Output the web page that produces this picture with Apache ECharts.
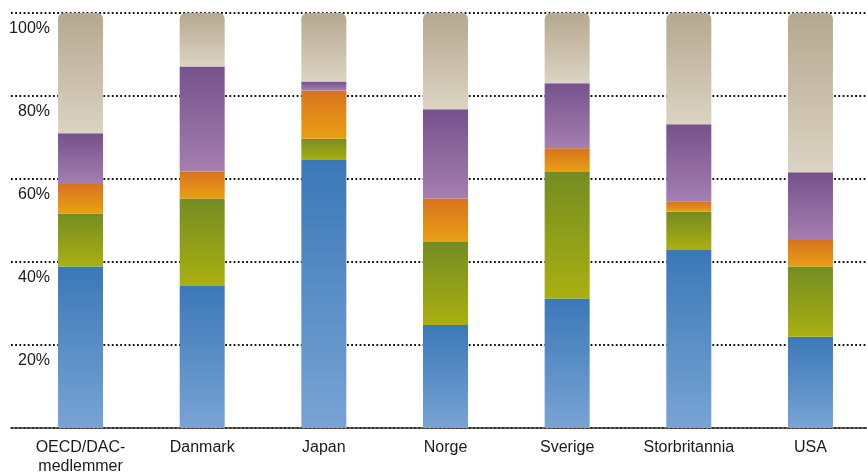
<!DOCTYPE html>
<html>
<head>
<meta charset="utf-8">
<script src="https://cdn.jsdelivr.net/npm/echarts@6/dist/echarts.min.js"></script>
<style>
html,body{margin:0;padding:0;background:#fff;}
#c{width:867px;height:472px;}
</style>
</head>
<body>
<div id="c"></div>
<script>
const categories = ['OECD/DAC-\nmedlemmer', 'Danmark', 'Japan', 'Norge', 'Sverige', 'Storbritannia', 'USA'];
const seriesBlue   = [38.9, 34.2, 64.6, 24.8, 31.2, 42.9, 22.0];
const seriesGreen  = [12.8, 21.1, 5.1, 20.0, 30.5, 9.2, 16.9];
const seriesOrange = [7.1, 6.5, 11.6, 10.5, 5.7, 2.4, 6.4];
const seriesPurple = [12.2, 25.3, 2.2, 21.5, 15.7, 18.7, 16.3];
const seriesBeige  = [29.0, 12.9, 16.5, 23.2, 16.9, 26.8, 38.4];
const yTicks = [20, 40, 60, 80, 100];

const FONT = '"Liberation Sans", Arial, sans-serif';
function grad(top, bottom) {
  return new echarts.graphic.LinearGradient(0, 0, 0, 1, [
    { offset: 0, color: top }, { offset: 1, color: bottom }
  ]);
}
const segs = [
  { name: 'blue',   data: seriesBlue,   c: grad('#3b78b8', '#78a4d4') },
  { name: 'green',  data: seriesGreen,  c: grad('#748c22', '#aab010') },
  { name: 'orange', data: seriesOrange, c: grad('#d8731e', '#eaa014') },
  { name: 'purple', data: seriesPurple, c: grad('#76518c', '#a57fb0') },
  { name: 'beige',  data: seriesBeige,  c: grad('#b5a890', '#dcd3c3'), top: true }
];

const chart = echarts.init(document.getElementById('c'), null, { renderer: 'canvas' });
chart.setOption({
  animation: false,
  backgroundColor: '#fff',
  grid: [
    { left: 11, right: 0, top: 13, bottom: 44, containLabel: false, outerBoundsMode: 'none' },
    { left: 19.7, right: -4.3, top: 13, bottom: 44, containLabel: false, outerBoundsMode: 'none' }
  ],
  xAxis: [
    { gridIndex: 0, type: 'value', min: 0, max: 1,
      axisLine: { show: true, lineStyle: { color: '#3b3228', width: 1.5 } },
      axisTick: { show: false }, axisLabel: { show: false }, splitLine: { show: false } },
    { gridIndex: 1, type: 'category', data: categories,
      axisLine: { show: false }, axisTick: { show: false },
      axisLabel: { margin: 10, fontFamily: FONT, fontSize: 16, color: '#1a1a1a', lineHeight: 19, interval: 0 } }
  ],
  yAxis: [
    { gridIndex: 0, type: 'value', min: 0, max: 100, interval: 20,
      axisLine: { show: false }, axisTick: { show: false },
      axisLabel: {
        inside: true, align: 'right', margin: 39, verticalAlign: 'top',
        padding: [8, 0, 0, 0], lineHeight: 16,
        fontFamily: FONT, fontSize: 16, color: '#1a1a1a',
        formatter: v => yTicks.indexOf(v) >= 0 ? v + '%' : ''
      },
      splitLine: { show: true, lineStyle: { color: '#111', width: 1.8, type: [1.8, 2.4] } }
    },
    { gridIndex: 1, type: 'value', min: 0, max: 100, show: false }
  ],
  series: segs.map(s => ({
    type: 'bar', name: s.name, xAxisIndex: 1, yAxisIndex: 1, stack: 'all',
    barWidth: 45, data: s.data,
    itemStyle: { color: s.c, borderRadius: s.top ? [6, 6, 0, 0] : 0 },
    z: 3
  }))
});
</script>
</body>
</html>
